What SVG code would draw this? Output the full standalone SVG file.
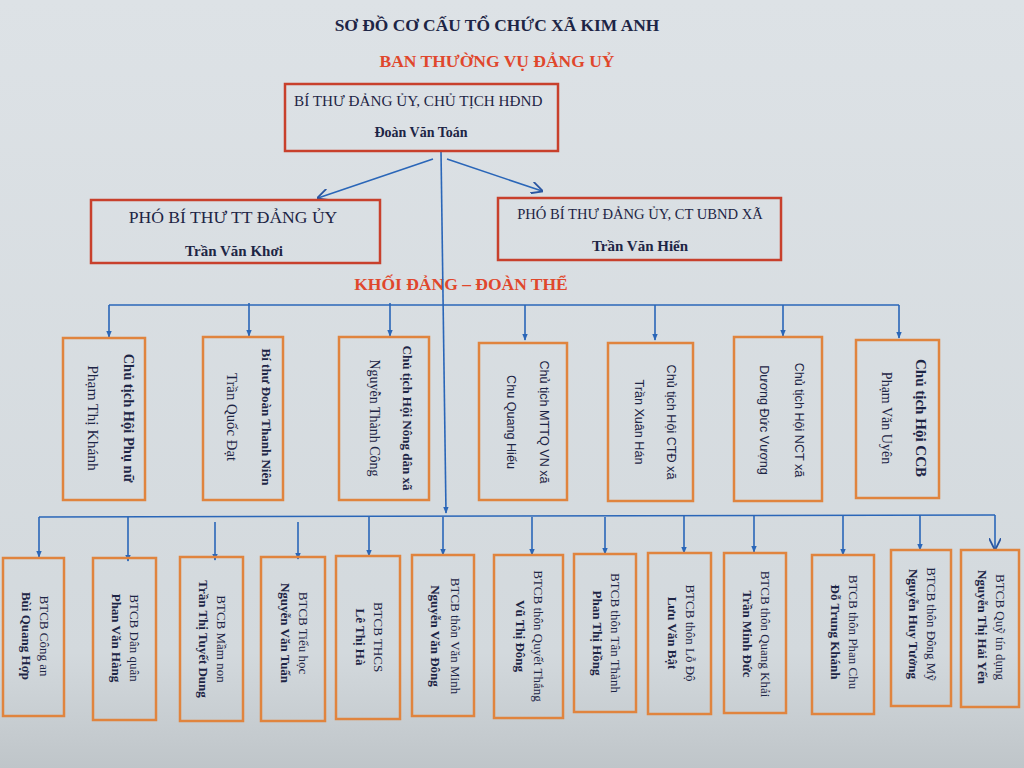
<svg xmlns="http://www.w3.org/2000/svg" width="1024" height="768" viewBox="0 0 1024 768">
<defs>
<linearGradient id="bg" x1="0" y1="0" x2="0" y2="1">
<stop offset="0" stop-color="#dde2e6"/>
<stop offset="0.85" stop-color="#d3d9dd"/>
<stop offset="1" stop-color="#bfc5c9"/>
</linearGradient>
<marker id="ah" viewBox="0 0 10 10" refX="9" refY="5" markerWidth="7" markerHeight="7" orient="auto" markerUnits="userSpaceOnUse">
<path d="M0,1 L10,5 L0,9 z" fill="#2a66b8"/>
</marker>
<marker id="ao" viewBox="0 0 10 10" refX="9" refY="5" markerWidth="12" markerHeight="12" orient="auto" markerUnits="userSpaceOnUse">
<path d="M0,0 L10,5 L0,10" fill="none" stroke="#2a55a0" stroke-width="1.5"/>
</marker>
</defs>
<style>
.serif{font-family:"Liberation Serif","Times New Roman",serif;fill:#1d2545}
.sans{font-family:"Liberation Sans",Arial,sans-serif;fill:#1d2545}
.b{font-weight:bold}
.red{fill:#e0472c;font-weight:bold;font-family:"Liberation Serif",serif}
.top{fill:none;stroke:#c8402c;stroke-width:2.5}
.box{fill:none;stroke:#e0843e;stroke-width:2.5}
.ln{stroke:#2a66b8;stroke-width:1.6;fill:none}
.mid{text-anchor:middle}
.bt{font-family:"Liberation Serif","Times New Roman",serif;fill:#1d2545;font-size:13px;text-anchor:middle}
</style>
<rect width="1024" height="768" fill="url(#bg)"/>

<text class="serif b mid" x="497" y="31" font-size="17.4">SƠ ĐỒ CƠ CẤU TỔ CHỨC XÃ KIM ANH</text>
<text class="red mid" x="497" y="67" font-size="17.5">BAN THƯỜNG VỤ ĐẢNG UỶ</text>
<text class="red mid" x="461" y="290" font-size="17.5">KHỐI ĐẢNG – ĐOÀN THỂ</text>

<g id="connectors">
<line class="ln" x1="441" y1="151" x2="446" y2="513" marker-end="url(#ah)"/>
<line class="ln" x1="433" y1="159" x2="318" y2="198" marker-end="url(#ao)"/>
<line class="ln" x1="447" y1="159" x2="542" y2="191" marker-end="url(#ao)"/>
<line class="ln" x1="109" y1="305" x2="899" y2="305"/>
<line class="ln" x1="109" y1="305" x2="109" y2="337" marker-end="url(#ah)"/>
<line class="ln" x1="249" y1="303" x2="249" y2="336" marker-end="url(#ah)"/>
<line class="ln" x1="390" y1="303" x2="390" y2="336" marker-end="url(#ah)"/>
<line class="ln" x1="525" y1="305" x2="525" y2="340" marker-end="url(#ah)"/>
<line class="ln" x1="655" y1="305" x2="655" y2="340" marker-end="url(#ah)"/>
<line class="ln" x1="783" y1="305" x2="783" y2="336" marker-end="url(#ah)"/>
<line class="ln" x1="899" y1="305" x2="899" y2="338" marker-end="url(#ah)"/>
<line class="ln" x1="39" y1="517" x2="995" y2="515"/>
<line class="ln" x1="39" y1="517" x2="39" y2="557" marker-end="url(#ah)"/>
<line class="ln" x1="128" y1="517" x2="128" y2="561" marker-end="url(#ah)"/>
<line class="ln" x1="215" y1="522" x2="215" y2="560" marker-end="url(#ah)"/>
<line class="ln" x1="298" y1="522" x2="298" y2="559" marker-end="url(#ah)"/>
<line class="ln" x1="369" y1="517" x2="369" y2="556" marker-end="url(#ah)"/>
<line class="ln" x1="443" y1="517" x2="443" y2="555" marker-end="url(#ah)"/>
<line class="ln" x1="532" y1="517" x2="532" y2="555" marker-end="url(#ah)"/>
<line class="ln" x1="605" y1="517" x2="605" y2="554" marker-end="url(#ah)"/>
<line class="ln" x1="684" y1="516" x2="684" y2="553" marker-end="url(#ah)"/>
<line class="ln" x1="754" y1="515" x2="754" y2="552" marker-end="url(#ah)"/>
<line class="ln" x1="843" y1="516" x2="843" y2="555" marker-end="url(#ah)"/>
<line class="ln" x1="920" y1="515" x2="920" y2="550" marker-end="url(#ah)"/>
<line class="ln" x1="995" y1="515" x2="995" y2="549" marker-end="url(#ao)"/>
</g>

<g id="n-bithu">
<rect class="top" x="285" y="84" width="273" height="67"/>
<text class="serif" x="294" y="106" font-size="15.2">BÍ THƯ ĐẢNG ỦY, CHỦ TỊCH HĐND</text>
<text class="serif b mid" x="421" y="137" font-size="14">Đoàn Văn Toán</text>
</g>
<g id="n-phobithu-tt">
<rect class="top" x="91" y="200" width="289" height="63"/>
<text class="serif mid" x="233" y="223" font-size="17.6">PHÓ BÍ THƯ TT ĐẢNG  ỦY</text>
<text class="serif b mid" x="234" y="256" font-size="15">Trần Văn Khơi</text>
</g>
<g id="n-phobithu-ubnd">
<rect class="top" x="498" y="198" width="283" height="62"/>
<text class="serif mid" x="640" y="219" font-size="14.6">PHÓ BÍ THƯ ĐẢNG ỦY, CT UBND XÃ</text>
<text class="serif b mid" x="640" y="251" font-size="15">Trần Văn Hiển</text>
</g>

<!-- middle row -->
<g id="n-phunu">
<rect class="box" x="63" y="338" width="82" height="162"/>
<g transform="translate(104,418) rotate(90)">
<text class="serif b mid" x="0" y="-20" font-size="14.5">Chủ tịch Hội Phụ nữ</text>
<text class="serif mid" x="0" y="16" font-size="15.5">Phạm Thị Khánh</text>
</g>
</g>
<g id="n-doanthanhnien">
<rect class="box" x="203" y="337" width="80" height="163"/>
<g transform="translate(243,417) rotate(90)">
<text class="serif b mid" x="0" y="-19" font-size="13">Bí thư Đoàn Thanh Niên</text>
<text class="serif mid" x="0" y="16" font-size="14.8">Trần Quốc Đạt</text>
</g>
</g>
<g id="n-nongdan">
<rect class="box" x="339" y="337" width="90" height="163"/>
<g transform="translate(384,418) rotate(90)">
<text class="serif b mid" x="0" y="-19" font-size="13">Chủ tịch Hội Nông dân xã</text>
<text class="serif mid" x="0" y="14" font-size="14">Nguyễn  Thành  Công</text>
</g>
</g>
<g id="n-mttq">
<rect class="box" x="479" y="343" width="88" height="157"/>
<g transform="translate(523,422) rotate(90)">
<text class="sans mid" x="0" y="-17" font-size="12.6">Chủ tịch MTTQ VN xã</text>
<text class="sans mid" x="0" y="16" font-size="12.6">Chu Quang Hiếu</text>
</g>
</g>
<g id="n-ctd">
<rect class="box" x="608" y="343" width="85" height="158"/>
<g transform="translate(650,422) rotate(90)">
<text class="sans mid" x="0" y="-17" font-size="12.6">Chủ tịch Hội CTĐ xã</text>
<text class="sans mid" x="0" y="15" font-size="12.6">Trần Xuân Hán</text>
</g>
</g>
<g id="n-nct">
<rect class="box" x="734" y="337" width="88" height="164"/>
<g transform="translate(778,420) rotate(90)">
<text class="sans mid" x="0" y="-17" font-size="12.6">Chủ tịch Hội NCT xã</text>
<text class="sans mid" x="0" y="18" font-size="12.6">Dương Đức Vượng</text>
</g>
</g>
<g id="n-ccb">
<rect class="box" x="856" y="340" width="83" height="158"/>
<g transform="translate(897,418) rotate(90)">
<text class="serif b mid" x="0" y="-19" font-size="15">Chủ tịch Hội CCB</text>
<text class="serif mid" x="0" y="15" font-size="14">Phạm Văn Uyên</text>
</g>
</g>

<!-- bottom row -->
<g id="n-congan">
<rect class="box" x="3" y="558" width="61" height="158"/>
<g transform="translate(34,636) rotate(90)">
<text class="bt" y="-6">BTCB Công an</text>
<text class="bt b" y="12">Bùi Quang Hợp</text>
</g>
</g>
<g id="n-danquan">
<rect class="box" x="93" y="558" width="63" height="162"/>
<g transform="translate(124,638) rotate(90)">
<text class="bt" y="-6">BTCB Dân quân</text>
<text class="bt b" y="12">Phan Văn Hàng</text>
</g>
</g>
<g id="n-mamnon">
<rect class="box" x="180" y="557" width="63" height="164"/>
<g transform="translate(211,639) rotate(90)">
<text class="bt" y="-6">BTCB Mầm non</text>
<text class="bt b" y="12">Trần Thị Tuyết Dung</text>
</g>
</g>
<g id="n-tieuhoc">
<rect class="box" x="261" y="557" width="64" height="164"/>
<g transform="translate(293,633) rotate(90)">
<text class="bt" y="-6">BTCB Tiểu học</text>
<text class="bt b" y="12">Nguyễn Văn Tuấn</text>
</g>
</g>
<g id="n-thcs">
<rect class="box" x="336" y="556" width="64" height="163"/>
<g transform="translate(368,637) rotate(90)">
<text class="bt" y="-6">BTCB THCS</text>
<text class="bt b" y="12">Lê Thị Hà</text>
</g>
</g>
<g id="n-vanminh">
<rect class="box" x="412" y="555" width="62" height="161"/>
<g transform="translate(443,636) rotate(90)">
<text class="bt" y="-8">BTCB thôn Văn Minh</text>
<text class="bt b" y="12">Nguyễn Văn Đông</text>
</g>
</g>
<g id="n-quyetthang">
<rect class="box" x="494" y="555" width="69" height="163"/>
<g transform="translate(528,636) rotate(90)">
<text class="bt" y="-6">BTCB thôn Quyết Thắng</text>
<text class="bt b" y="12">Vũ Thị Đông</text>
</g>
</g>
<g id="n-tanthanh">
<rect class="box" x="574" y="554" width="62" height="158"/>
<g transform="translate(605,633) rotate(90)">
<text class="bt" y="-6">BTCB thôn Tân Thành</text>
<text class="bt b" y="12">Phan Thị Hồng</text>
</g>
</g>
<g id="n-lodo">
<rect class="box" x="648" y="553" width="63" height="161"/>
<g transform="translate(680,633) rotate(90)">
<text class="bt" y="-6">BTCB thôn Lỗ Độ</text>
<text class="bt b" y="12">Lưu  Văn Bật</text>
</g>
</g>
<g id="n-quangkhai">
<rect class="box" x="724" y="553" width="62" height="160"/>
<g transform="translate(755,634) rotate(90)">
<text class="bt" y="-6">BTCB thôn Quang Khải</text>
<text class="bt b" y="12">Trần Minh Đức</text>
</g>
</g>
<g id="n-phanchu">
<rect class="box" x="812" y="555" width="62" height="159"/>
<g transform="translate(843,632) rotate(90)">
<text class="bt" y="-6">BTCB thôn Phan Chu</text>
<text class="bt b" y="12">Đỗ Trung Khánh</text>
</g>
</g>
<g id="n-dongmy">
<rect class="box" x="891" y="550" width="60" height="156"/>
<g transform="translate(921,624) rotate(90)">
<text class="bt" y="-6">BTCB thôn Đông Mỹ</text>
<text class="bt b" y="12">Nguyễn Huy  Tưởng</text>
</g>
</g>
<g id="n-quytindung">
<rect class="box" x="961" y="550" width="58" height="157"/>
<g transform="translate(990,627) rotate(90)">
<text class="bt" y="-6">BTCB Quỹ tín dụng</text>
<text class="bt b" y="12">Nguyễn Thị Hải Yến</text>
</g>
</g>
</svg>
